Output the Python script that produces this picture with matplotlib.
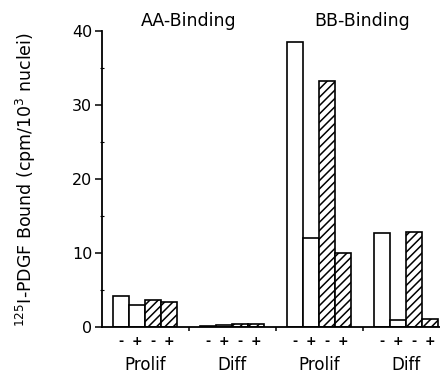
import matplotlib
matplotlib.use("Agg")
import matplotlib.pyplot as plt
import numpy as np

plt.rcParams['font.family'] = ['DejaVu Sans']
plt.rcParams['hatch.linewidth'] = 1.1

groups = ["Prolif", "Diff", "Prolif", "Diff"]
binding = ["AA-Binding", "BB-Binding"]
signs = ["-", "+", "-", "+"]
# per group: [open -, open +, hatched -, hatched +]
values = [
    [4.2, 3.0, 3.7, 3.4],      # AA Prolif
    [0.15, 0.3, 0.35, 0.4],    # AA Diff
    [38.5, 12.0, 33.2, 10.0],  # BB Prolif
    [12.7, 0.9, 12.8, 1.05],   # BB Diff
]
hatches = ["", "", "////", "////"]
yticks = [0, 10, 20, 30, 40]

fig = plt.figure(figsize=(4.4, 3.75), dpi=100)
ax = fig.add_axes([102/440, 1 - 327/375, 338/440, (327 - 31)/375])

G = 5.44
bw = 1.0
for gi, vals in enumerate(values):
    center = gi * G
    for bi, v in enumerate(vals):
        x = center + (bi - 1.5) * bw
        ax.bar(x, v, width=bw, facecolor="white", edgecolor="black",
               linewidth=1.2, hatch=hatches[bi])
        ax.text(x, -2.0, signs[bi], ha="center", va="center", fontsize=9,
                fontweight="bold")
    ax.text(center, -5.2, groups[gi], ha="center", va="center", fontsize=12)

for i, b in enumerate(binding):
    ax.text(G / 2 + 2 * i * G, 41.3, b, ha="center", va="center", fontsize=12.5)

ax.set_xlim(-2.69, 18.44)
ax.set_ylim(0, 40)
ax.set_yticks(yticks)
ax.set_yticks([5, 15, 25, 35], minor=True)
ax.set_xticks([G / 2, G * 1.5, G * 2.5])
ax.set_xticklabels([])
ax.tick_params(axis="y", which="major", direction="out", length=5, width=1.1,
               labelsize=11.5, pad=2)
ax.tick_params(axis="y", which="minor", direction="inout", length=3, width=0.8)
ax.tick_params(axis="x", which="major", direction="out", length=3, width=1.1)
for s in ["top", "right"]:
    ax.spines[s].set_visible(False)
for s in ["left", "bottom"]:
    ax.spines[s].set_linewidth(1.3)

fig.text(26/440, 1 - 180/375, "$^{125}$I-PDGF Bound (cpm/10$^{3}$ nuclei)",
         rotation=90, ha="center", va="center", fontsize=12.5)

fig.savefig("out.png", dpi=100)
